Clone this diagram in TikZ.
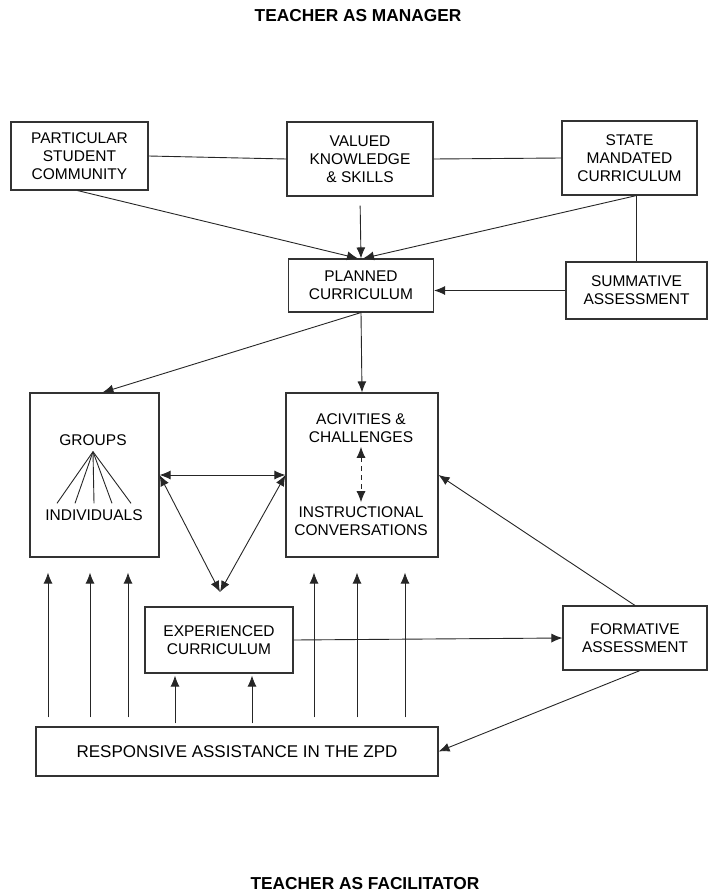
\documentclass[tikz,border=0pt]{standalone}
\usepackage{fontspec}
\setmainfont{Liberation Sans}
\usetikzlibrary{arrows.meta}

\newcommand{\boxfont}{\fontsize{15.5}{18.2}\selectfont}
\newcommand{\bigboxfont}{\fontsize{17}{19}\selectfont}
\newcommand{\headfont}{\fontsize{17.3}{19}\selectfont\bfseries}

\tikzset{
  box/.style={draw=black!80, line width=1.1pt, align=center, inner sep=0pt, font=\boxfont},
  txt/.style={align=center, inner sep=4pt, font=\boxfont},
  link/.style={draw=black!85, line width=0.9pt},
}

\begin{document}
\begin{tikzpicture}[x=1pt,y=-1pt,>={Latex[length=11pt,width=9pt]}]
    \useasboundingbox (0,0) rectangle (714,894);
    %% headings
    \node[font=\headfont] (mgr) at (358,16) {TEACHER AS MANAGER};
    \node[font=\headfont] (fac) at (365,884) {TEACHER AS FACILITATOR};
    %% top row
    \node[box,minimum width=137pt,minimum height=68pt] (part) at (79.5,156) {PARTICULAR\\STUDENT\\COMMUNITY};
    \node[box,minimum width=146pt,minimum height=74pt] (valued) at (360,159) {VALUED\\KNOWLEDGE\\\& SKILLS};
    \node[box,minimum width=135pt,minimum height=74pt] (state) at (629.5,158) {STATE\\MANDATED\\CURRICULUM};
    \draw[link] (part.east) -- (valued.west);
    \draw[link] (valued.east) -- (state.west);
    %% planned curriculum
    \node[box,minimum width=145pt,minimum height=53pt] (planned) at (361,285.5) {PLANNED\\CURRICULUM};
    \node[box,minimum width=141pt,minimum height=57pt] (summ) at (636.5,290.5) {SUMMATIVE\\ASSESSMENT};
    \coordinate (s) at (summ.north |- state.south);
    \draw[link,->] ([xshift=-2pt]part.south) -- ([xshift=-3pt]planned.north);
    \draw[link,->,shorten <=9pt] (valued.south) -- (planned.north);
    \draw[link,->] (s) -- ([xshift=2pt]planned.north);
    \draw[link] (s) -- (summ.north);
    \draw[link,->] (summ.west) -- (planned.east |- summ.west);
    %% middle row
    \node[box,minimum width=129pt,minimum height=164pt] (grpbox) at (94.5,475) {};
    \node[box,minimum width=152pt,minimum height=164pt] (actbox) at (362,475) {};
    \draw[link,->] (planned.south) -- ([xshift=8pt]grpbox.north);
    \draw[link,->] (planned.south) -- (actbox.north);
    %% groups and individuals
    \node[txt,inner sep=6pt] (grp) at (93,440) {GROUPS};
    \node[txt,inner sep=6pt] (ind) at (94,515) {INDIVIDUALS};
    \foreach \dx in {-37,-19,0,18,37}
        \draw[link] (grp.south) -- ([xshift=\dx pt]ind.north);
    %% activities and conversations
    \node[txt] (act) at (361,428) {ACIVITIES \&\\CHALLENGES};
    \node[txt] (conv) at (361,521) {INSTRUCTIONAL\\CONVERSATIONS};
    \draw[link,<->,dash pattern=on 5pt off 4pt] (act.south) -- (conv.north);
    \draw[link,<->] (grpbox.east) -- (actbox.west);
    \coordinate (v) at (220,592);
    \draw[link,<->] (grpbox.east) -- (v);
    \draw[link,<->] (actbox.west) -- (v);
    %% bottom row
    \node[box,minimum width=148pt,minimum height=66pt] (exp) at (219,640) {EXPERIENCED\\CURRICULUM};
    \node[box,minimum width=144pt,minimum height=64pt] (form) at (635,638) {FORMATIVE\\ASSESSMENT};
    \node[box,font=\bigboxfont,minimum width=402pt,minimum height=49pt] (resp) at (237,751.5) {RESPONSIVE ASSISTANCE IN THE ZPD};
    \draw[link,->] (exp.east) -- (form.west);
    \draw[link,->] (form.north) -- (actbox.east);
    \draw[link,->] ([xshift=5pt]form.south) -- (resp.east);
    %% assistance arrows
    \foreach \x in {48,90,128}
        \draw[link,->,shorten <=9pt,shorten >=15pt] (resp.north -| \x,0) -- (grpbox.south -| \x,0);
    \foreach \x in {314,357,405}
        \draw[link,->,shorten <=9pt,shorten >=15pt] (resp.north -| \x,0) -- (actbox.south -| \x,0);
    \foreach \x in {175,252}
        \draw[link,->,shorten <=3pt,shorten >=2pt] (resp.north -| \x,0) -- (exp.south -| \x,0);
\end{tikzpicture}
\end{document}
